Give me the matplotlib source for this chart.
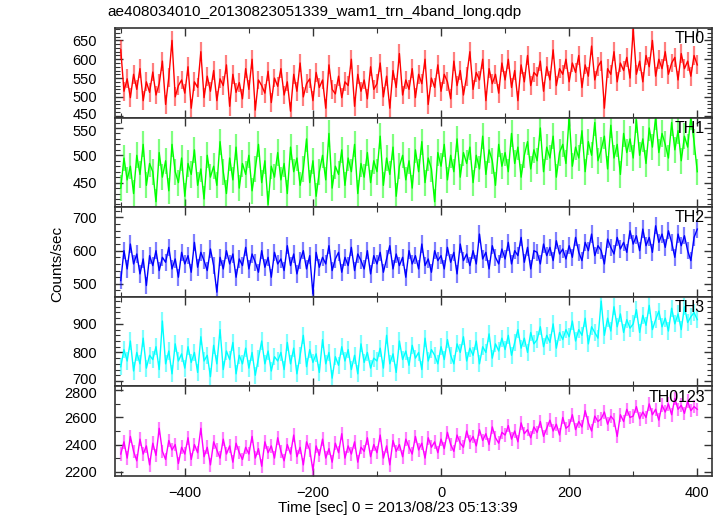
import numpy as np
import matplotlib
matplotlib.use("Agg")
import matplotlib.pyplot as plt
from matplotlib.ticker import MultipleLocator
from matplotlib.transforms import ScaledTranslation

plt.rcParams['font.family'] = ['Liberation Sans', 'DejaVu Sans']

TITLE = "ae408034010_20130823051339_wam1_trn_4band_long.qdp"
XLABEL = "Time [sec] 0 = 2013/08/23 05:13:39"
YLABEL = "Counts/sec"

# time bins (sec), one value every 5 s
T_START, T_STOP, T_STEP = -500, 400, 5

names = ["TH0", "TH1", "TH2", "TH3", "TH0123"]

th0 = [625, 515, 548, 498, 560, 520, 575, 490, 540, 512,
       566, 505, 535, 595, 480, 552, 650, 500, 530, 545,
       510, 580, 470, 540, 525, 620, 498, 555, 515, 570,
       490, 548, 530, 585, 475, 560, 512, 538, 495, 575,
       520, 600, 465, 545, 530, 510, 568, 485, 550, 528,
       575, 505, 540, 462, 560, 515, 590, 500, 535, 548,
       490, 565, 525, 545, 470, 585, 520, 508, 555, 498,
       540, 530, 600, 475, 560, 515, 545, 495, 580, 520,
       535, 590, 500, 555, 470, 570, 525, 615, 505, 545,
       520, 575, 498, 560, 535, 600, 480, 550, 525, 585,
       515, 560, 540, 495, 595, 530, 570, 505, 555, 620,
       520, 565, 545, 600, 490, 575, 535, 560, 510, 590,
       545, 600, 525, 570, 490, 585, 540, 610, 530, 565,
       555, 595, 515, 580, 545, 625, 530, 575, 560, 600,
       540, 590, 565, 610, 525, 585, 555, 635, 545, 580,
       595, 470, 575, 560, 620, 540, 590, 570, 605, 550,
       680, 560, 595, 540, 610, 580, 650, 555, 600, 575,
       620, 560, 590, 605, 545, 615, 575, 595, 555, 610,
       585]

th1 = [440, 495, 455, 480, 430, 500, 465, 520, 445, 485,
       470, 415, 505, 460, 490, 435, 520, 470, 450, 495,
       425, 485, 465, 510, 445, 475, 420, 500, 460, 480,
       445, 525, 470, 430, 495, 455, 515, 440, 485, 465,
       500, 435, 475, 520, 450, 490, 410, 480, 460, 505,
       455, 485, 430, 515, 470, 495, 445, 475, 530, 450,
       490, 425, 470, 500, 455, 540, 440, 480, 465, 510,
       445, 495, 470, 520, 430, 485, 460, 505, 450, 490,
       470, 535, 445, 495, 465, 515, 425, 480, 500, 455,
       490, 440, 510, 470, 525, 450, 495, 475, 415, 505,
       480, 520, 455, 500, 470, 530, 460, 505, 485, 515,
       450, 500, 475, 535, 465, 510, 490, 445, 520, 480,
       505, 470, 540, 485, 515, 460, 500, 525, 475, 510,
       490, 550, 470, 515, 495, 535, 460, 505, 520, 485,
       570, 480, 515, 495, 545, 470, 525, 500, 560, 490,
       510, 535, 475, 555, 495, 520, 465, 540, 505, 530,
       495, 565, 500, 530, 485, 550, 515, 570, 505, 540,
       520, 495, 560, 510, 545, 490, 535, 515, 570, 525,
       470]

th2 = [510, 600, 545, 620, 560, 590, 530, 575, 495, 585,
       555, 600, 540, 580, 565, 610, 545, 575, 520, 595,
       560, 585, 535, 625, 550, 595, 570, 540, 605, 555,
       475, 580, 545, 600, 560, 590, 520, 575, 555, 610,
       545, 590, 565, 535, 600, 550, 580, 520, 595, 560,
       575, 540, 615, 555, 590, 530, 570, 600, 545, 585,
       470, 595, 550, 580, 560, 615, 540, 575, 595, 535,
       580, 555, 610, 540, 590, 570, 545, 600, 530, 585,
       560, 595, 535, 575, 615, 545, 590, 555, 580, 520,
       600, 560, 585, 545, 620, 555, 575, 535, 600, 570,
       585, 545, 610, 565, 595, 530, 620, 570, 590, 555,
       600, 560, 650, 575, 595, 545, 615, 580, 560, 605,
       575, 625, 560, 600, 585, 640, 565, 610, 545, 600,
       595, 560, 620, 585, 610, 570, 630, 590, 605, 575,
       615, 580, 640, 595, 570, 625, 600, 650, 585, 615,
       600, 560, 635, 610, 590, 640, 605, 625, 595, 660,
       620, 645, 600, 665, 615, 640, 595, 675, 625, 650,
       610, 660, 625, 580, 650, 615, 645, 600, 570, 640,
       665]

th3 = [750, 810, 770, 840, 735, 800, 760, 850, 745, 790,
       775, 820, 740, 910, 760, 805, 725, 830, 770, 795,
       745, 820, 765, 800, 730, 855, 770, 790, 715, 825,
       760, 880, 740, 805, 775, 835, 725, 790, 760, 815,
       745, 800, 720, 780, 840, 760, 805, 735, 785, 770,
       800, 740, 835, 760, 815, 725, 790, 860, 750, 810,
       765, 795, 730, 845, 760, 800, 710, 785, 755, 820,
       770, 810, 740, 790, 725, 830, 765, 800, 745, 780,
       770, 815, 745, 860, 760, 795, 730, 840, 775, 805,
       755, 825, 780, 800, 740, 850, 770, 810, 790, 760,
       820, 775, 845, 790, 760, 830, 800, 855, 770, 815,
       790, 840, 760, 820, 800, 865, 780, 830, 805, 850,
       810, 860, 790, 835, 880, 815, 850, 800, 870, 830,
       845, 890, 820, 860, 835, 900, 815, 870, 845, 880,
       855, 910, 840, 880, 860, 920, 830, 890, 870, 850,
       980, 860, 920, 875, 960, 890, 935, 870, 915, 885,
       900, 950, 870, 930, 895, 965, 880, 915, 945, 890,
       920, 875, 955, 900, 935, 880, 960, 905, 925, 940,
       915]

th0123 = [2330, 2420, 2300, 2460, 2350, 2280, 2440, 2330, 2390, 2250,
          2410, 2320, 2520, 2350, 2290, 2430, 2360, 2400, 2260, 2380,
          2330, 2450, 2290, 2400, 2340, 2520, 2310, 2380, 2250, 2420,
          2360, 2300, 2440, 2330, 2390, 2270, 2410, 2340, 2290, 2380,
          2330, 2460, 2300, 2370, 2240, 2420, 2340, 2390, 2300, 2450,
          2350, 2280, 2400, 2330, 2470, 2310, 2380, 2250, 2420, 2360,
          2210, 2390, 2320, 2440, 2300, 2370, 2270, 2410, 2340, 2480,
          2300, 2390, 2330, 2420, 2270, 2380, 2350, 2450, 2310, 2400,
          2340, 2470, 2300, 2390, 2250, 2430, 2350, 2400, 2310, 2440,
          2380, 2330, 2460, 2360, 2410, 2300, 2450, 2380, 2420, 2340,
          2440, 2370, 2490, 2400, 2350, 2470, 2410, 2380, 2500, 2420,
          2460, 2390, 2510, 2430, 2480, 2400, 2530, 2450, 2410, 2490,
          2470, 2540, 2440, 2500, 2420, 2560, 2480, 2510, 2450, 2530,
          2490, 2570, 2460, 2520, 2580, 2500, 2550, 2470, 2600, 2520,
          2540, 2620, 2510, 2570, 2530, 2650, 2560, 2500, 2610, 2570,
          2590, 2640, 2550, 2610, 2580, 2460, 2620, 2570, 2660, 2600,
          2610, 2680, 2590, 2640, 2600, 2700, 2620, 2660, 2580, 2690,
          2640, 2700, 2620, 2740, 2660, 2690, 2630, 2720, 2650, 2680,
          2660]

# typical error bar size per band
errors = [25, 24, 26, 30, 50]

series = [th0, th1, th2, th3, th0123]
colors = ['#ff0000', '#00ff00', '#0000ff', '#00ffff', '#ff00ff']
ylims = [(445, 683), (405, 569), (461, 731), (681, 995), (2168, 2829)]
ymajor = [50, 50, 100, 100, 200]
yminor = [10, 10, 20, 20, 100]

t = np.arange(T_START, T_STOP + 1, T_STEP)

fig, axes = plt.subplots(5, 1, sharex=True, figsize=(7.24, 5.16), dpi=100)
fig.subplots_adjust(left=115 / 724, right=712 / 724, top=1 - 28 / 516,
                    bottom=1 - 476 / 516, hspace=0)

for ax, name, y, err, c, yl, ma, mi in zip(axes, names, series, errors, colors,
                                           ylims, ymajor, yminor):
    y = np.array(y)
    ax.errorbar(t, y, yerr=err, fmt='none', ecolor=c, alpha=0.5, elinewidth=1.6)
    ax.plot(t, y, color=c, lw=1.0)
    ax.set_ylim(*yl)
    ax.yaxis.set_major_locator(MultipleLocator(ma))
    ax.yaxis.set_minor_locator(MultipleLocator(mi))
    ax.text(0.988, 0.88, name, transform=ax.transAxes, ha='right', va='center',
            fontsize=11.5)
    ax.tick_params(which='both', direction='in', top=True, right=True,
                   labelsize=10.5, color='#333333')
    ax.tick_params(which='major', length=6, width=1.0)
    ax.tick_params(which='minor', length=3.5, width=0.8)
    ax.tick_params(axis='y', pad=13)
    ax.tick_params(axis='x', pad=7)
    for s in ax.spines.values():
        s.set_color('#333333')
        s.set_linewidth(1.2)

ax = axes[-1]
ax.set_xlim(-509, 423)
ax.xaxis.set_major_locator(MultipleLocator(200))
ax.xaxis.set_minor_locator(MultipleLocator(100))

fig.text(398 / 724, 1 - 508 / 516, XLABEL, ha='center', va='center', fontsize=11)
fig.text(57 / 724, 0.5 - 0.012, YLABEL, rotation=90, ha='center', va='center',
         fontsize=11)
fig.text(107 / 724, 1 - 12 / 516, TITLE, ha='left', va='center', fontsize=11)

# nudge the edge tick labels that sit next to each other between panels
fig.canvas.draw()
nudges = [(axes[0], 450, 2.5), (axes[1], 550, -2.5),
          (axes[3], 700, 2.5), (axes[4], 2800, -2.5)]
for a, loc, dy in nudges:
    for tick in a.yaxis.get_major_ticks():
        if abs(tick.get_loc() - loc) < 1e-6:
            lab = tick.label1
            lab.set_transform(lab.get_transform() +
                              ScaledTranslation(0, dy / 100, fig.dpi_scale_trans))

fig.savefig("out.png", dpi=100)
